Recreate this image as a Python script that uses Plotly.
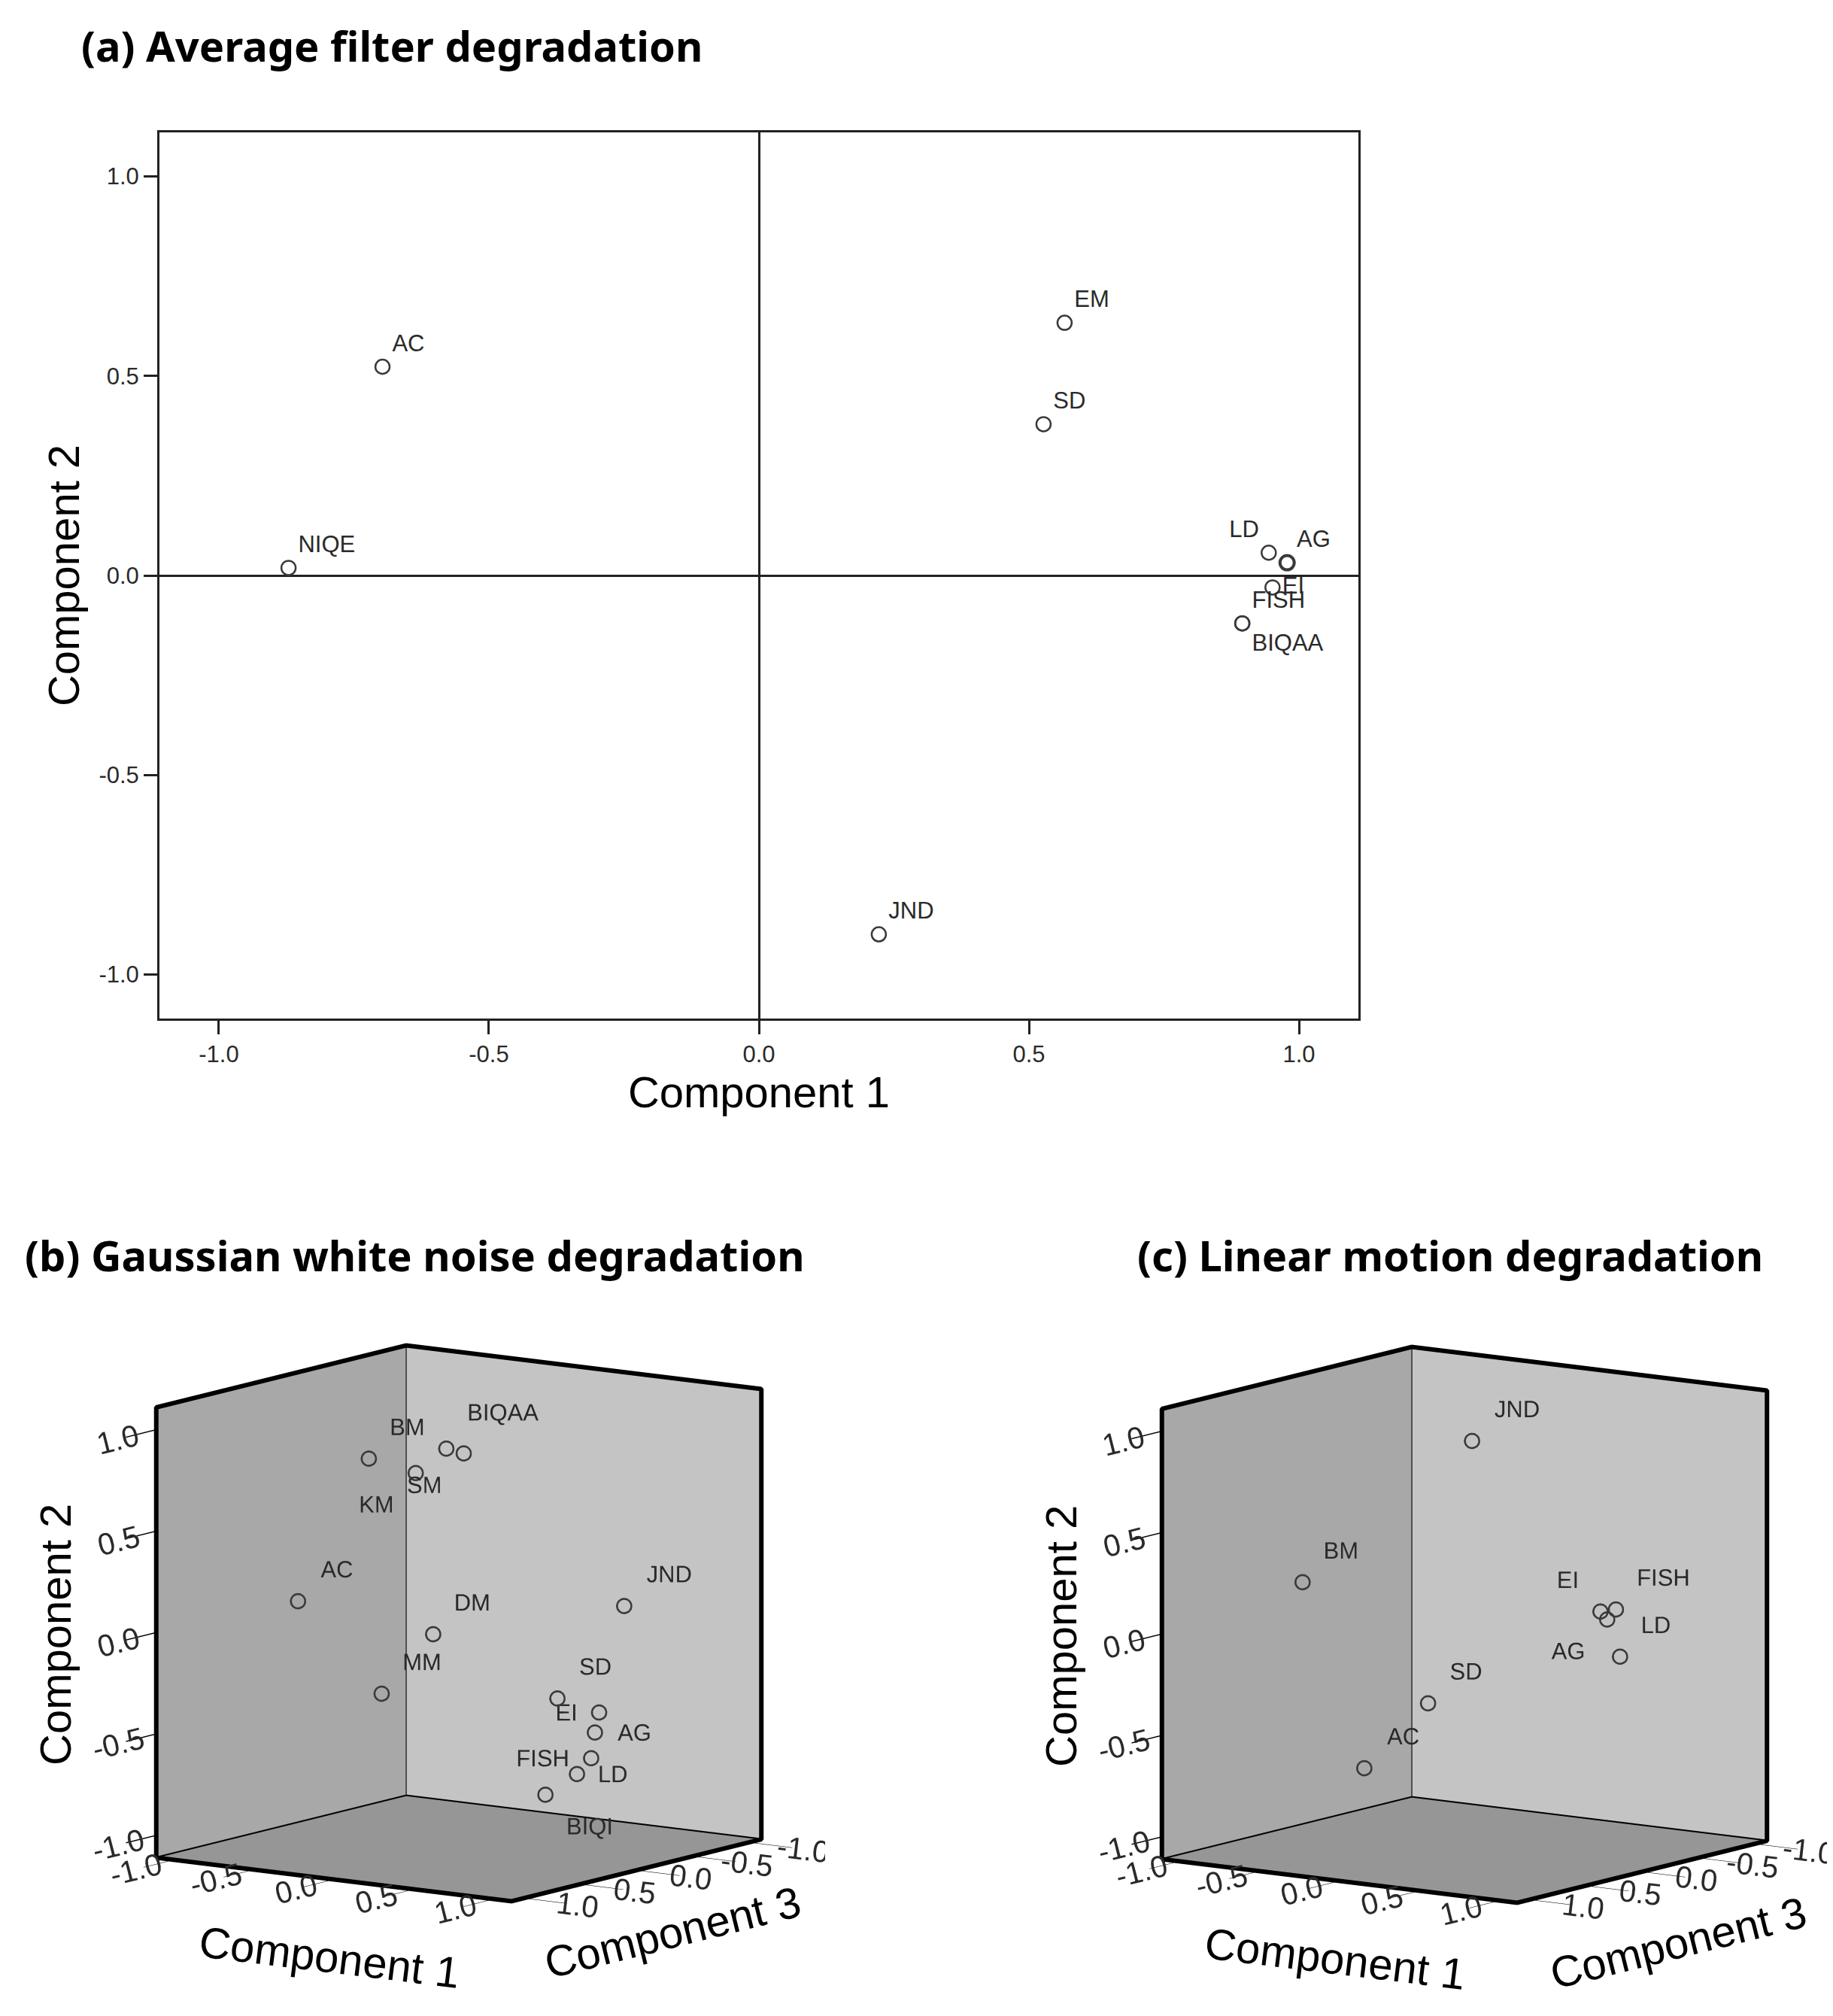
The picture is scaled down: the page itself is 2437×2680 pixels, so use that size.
"""Component plots of IQA metrics under three kinds of degradation."""
import plotly.graph_objects as go

# ---- data -------------------------------------------------------------
TICKS = [-1.0, -0.5, 0.0, 0.5, 1.0]
TICK_TEXT = ["-1.0", "-0.5", "0.0", "0.5", "1.0"]

# (a) Average filter degradation (2 components)
A_NAMES = ["AC", "NIQE", "EM", "SD", "LD", "AG", "EI", "FISH", "BIQAA", "JND"]
A_COMP1 = [-0.697, -0.871, 0.566, 0.527, 0.944, 0.978, 0.951, 0.895, 0.895, 0.222]
A_COMP2 = [0.523, 0.019, 0.633, 0.379, 0.057, 0.032, -0.030, -0.120, -0.120, -0.899]

# (b) Gaussian white noise degradation (3 components)
B_NAMES = ["BM", "BIQAA", "SM", "KM", "AC", "DM", "MM",
           "JND", "SD", "EI", "AG", "FISH", "LD", "BIQI"]
B_COMP1 = [-0.457, -0.138, -0.063, -0.254, -0.685, -0.104, -0.291,
           0.681, 0.446, 0.627, 0.619, 0.616, 0.564, 0.442]
B_COMP2 = [0.790, 0.838, 0.815, 0.721, 0.107, -0.051, -0.336,
           0.084, -0.359, -0.426, -0.522, -0.645, -0.721, -0.820]
B_COMP3 = [0.154, -0.081, -0.129, 0.026, 0.459, 0.084, 0.276,
           -0.497, -0.238, -0.351, -0.325, -0.296, -0.244, -0.137]

# (c) Linear motion degradation (3 components)
C_NAMES = ["JND", "BM", "EI", "FISH", "AG", "LD", "SD", "AC"]
C_COMP1 = [-0.058, -0.700, 0.561, 0.625, 0.593, 0.665, -0.117, -0.353]
C_COMP2 = [0.882, 0.205, 0.065, 0.075, 0.027, -0.151, -0.375, -0.686]
C_COMP3 = [-0.146, 0.447, -0.407, -0.453, -0.421, -0.433, 0.161, 0.392]

# label placement, as in the original
A_POS = ["top right", "top right", "top right", "top right", "top left",
         "top right", "middle right", "top right", "bottom right", "top right"]
B_POS = ["top right", "top right", "bottom left", "bottom left", "top right",
         "top right", "top right", "top right", "top right", "middle left",
         "middle right", "middle left", "middle right", "bottom right"]
C_POS = ["top right", "top right", "top left", "top right", "bottom left",
         "top right", "top right", "top right"]

# ---- style ------------------------------------------------------------
FONT = "Liberation Sans, Arial, sans-serif"
TITLE_FONT = dict(family="Noto Sans, Open Sans, sans-serif", size=56, color="black")
LABEL_FONT = dict(family=FONT, size=31, color="#2a2a2a")
TICK_FONT = dict(family=FONT, size=31, color="#2a2a2a")
TICK_FONT_3D = dict(family=FONT, size=22, color="#2a2a2a")  # gl text scales oddly
MARK_COLOR = "#3a3a3a"
BOX = 1.11  # axis range of every panel
W, H, PAGE_PAD = 2437, 2680, 8  # the page body adds 8px before the figure

# camera direction (x = Component 3, y = Component 1)
EYE_DIR = (0.8055, 0.5667, 0.1744)
ASPECT = dict(x=1.346, y=1.346, z=1.417)  # orthographic zoom lives here


def px(x):
    return (x - PAGE_PAD) / W


def py(y):
    return 1 - (y - PAGE_PAD) / H


fig = go.Figure()

# (a) plain 2-D scatter
fig.add_trace(go.Scatter(
    x=A_COMP1, y=A_COMP2, text=A_NAMES, mode="markers+text",
    textposition=A_POS, textfont=LABEL_FONT, cliponaxis=False,
    marker=dict(symbol="circle-open", size=19, color=MARK_COLOR,
                line=dict(width=[4 if n == "AG" else 2.5 for n in A_NAMES])),
    hoverinfo="skip", showlegend=False))


def box_edges(scene):
    """Black outline of the two back walls and the floor."""
    s = [(1, -1, -1), (1, -1, 1), (-1, -1, 1), (-1, 1, 1), (-1, 1, -1),
         (1, 1, -1), (1, -1, -1), (-1, -1, -1), (-1, 1, -1), None,
         (-1, -1, 1), (-1, -1, -1)]
    xs = [p[0] * BOX if p else None for p in s]
    ys = [p[1] * BOX if p else None for p in s]
    zs = [p[2] * BOX if p else None for p in s]
    return go.Scatter3d(x=xs, y=ys, z=zs, mode="lines", scene=scene,
                        line=dict(color="black", width=12),
                        hoverinfo="skip", showlegend=False)


def points3d(c1, c2, c3, names, pos, scene):
    return go.Scatter3d(
        x=c3, y=c1, z=c2, text=names, mode="markers+text", scene=scene,
        textposition=pos, textfont=LABEL_FONT,
        marker=dict(symbol="circle-open", size=12, color=MARK_COLOR,
                    line=dict(width=2.5, color=MARK_COLOR)),
        hoverinfo="skip", showlegend=False)


fig.add_trace(box_edges("scene"))
fig.add_trace(points3d(B_COMP1, B_COMP2, B_COMP3, B_NAMES, B_POS, "scene"))
fig.add_trace(box_edges("scene2"))
fig.add_trace(points3d(C_COMP1, C_COMP2, C_COMP3, C_NAMES, C_POS, "scene2"))


def scene_layout(cx, cy, c3_yshift, half_w=487, half_h=429):
    axis = dict(range=[-BOX, BOX], tickvals=TICKS, ticktext=TICK_TEXT,
                showgrid=False, zeroline=False, showspikes=False,
                showline=True, linecolor="black", linewidth=8,
                ticks="outside", ticklen=70, tickwidth=3, tickcolor="black",
                tickfont=TICK_FONT_3D, title=dict(text=""), showbackground=True)
    title_font = dict(family=FONT, size=58, color="black")
    notes = [
        dict(x=BOX, y=-BOX, z=0, text="Component 2", textangle=-90,
             xshift=-135, yshift=-3),
        dict(x=BOX, y=0, z=-BOX, text="Component 1", textangle=7,
             xshift=-6, yshift=-103),
        dict(x=0, y=BOX, z=-BOX, text="Component 3", textangle=-14,
             xshift=48, yshift=c3_yshift),
    ]
    for n in notes:
        n.update(showarrow=False, font=title_font)
    return dict(
        domain=dict(x=[px(cx - half_w), px(cx + half_w)],
                    y=[py(cy + half_h), py(cy - half_h)]),
        xaxis=dict(axis, backgroundcolor="#c4c4c4"),   # Component 3
        yaxis=dict(axis, backgroundcolor="#a8a8a8"),   # Component 1
        zaxis=dict(axis, backgroundcolor="#969696"),   # Component 2
        aspectmode="manual", aspectratio=ASPECT,
        camera=dict(projection=dict(type="orthographic"),
                    up=dict(x=0, y=0, z=1), center=dict(x=0, y=0, z=0),
                    eye=dict(x=EYE_DIR[0] * 2, y=EYE_DIR[1] * 2,
                             z=EYE_DIR[2] * 2)),
        annotations=notes, dragmode=False)


axis_title_font = dict(family=FONT, size=58, color="black")
axis_common = dict(range=[-BOX, BOX], tickvals=TICKS, ticktext=TICK_TEXT,
                   tickfont=TICK_FONT, showgrid=False, showline=True,
                   mirror=True, linecolor="#222", linewidth=3, ticks="outside",
                   ticklen=18, tickwidth=3, tickcolor="#222", zeroline=True,
                   zerolinecolor="#222", zerolinewidth=3)
fig.update_layout(
    width=W, height=H, margin=dict(l=0, r=0, t=0, b=0),
    paper_bgcolor="white", plot_bgcolor="white", hovermode=False,
    xaxis=dict(axis_common, domain=[px(212), px(1806)],
               title=dict(text="Component 1", font=axis_title_font, standoff=14)),
    yaxis=dict(axis_common, domain=[py(1354), py(176)],
               title=dict(text="Component 2", font=axis_title_font, standoff=8)),
    scene=scene_layout(610, 2158, -82),
    scene2=scene_layout(1947, 2160, -94),
    annotations=[
        dict(x=px(106), y=py(60), xref="paper", yref="paper", xanchor="left",
             yanchor="middle", showarrow=False, font=TITLE_FONT,
             text="<b>(a) Average filter degradation</b>"),
        dict(x=px(31), y=py(1668), xref="paper", yref="paper", xanchor="left",
             yanchor="middle", showarrow=False, font=TITLE_FONT,
             text="<b>(b) Gaussian white noise degradation</b>"),
        dict(x=px(1510), y=py(1668), xref="paper", yref="paper", xanchor="left",
             yanchor="middle", showarrow=False, font=TITLE_FONT,
             text="<b>(c) Linear motion degradation</b>"),
    ],
)

fig.write_html("out.html")
